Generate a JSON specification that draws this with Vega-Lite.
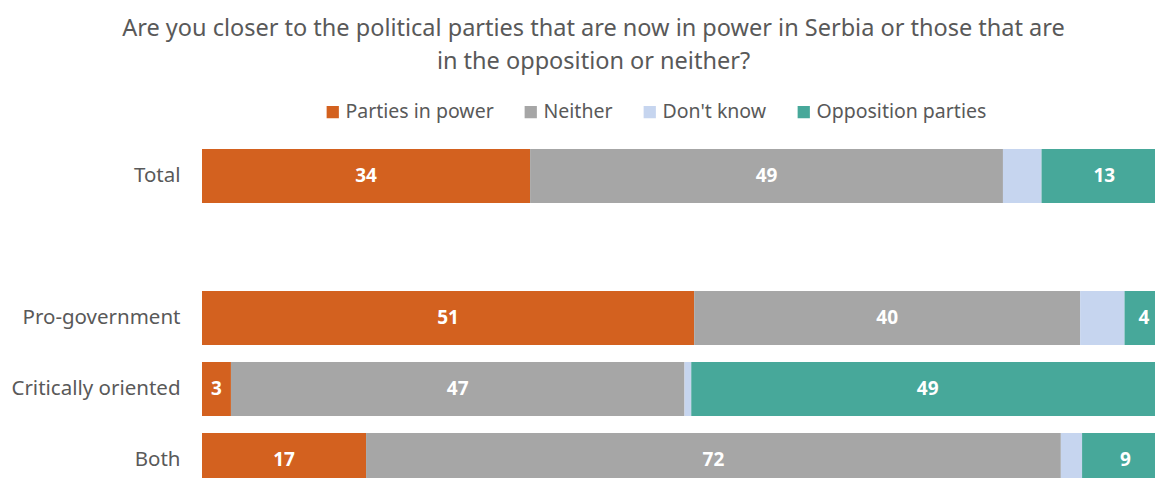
{
  "$schema": "https://vega.github.io/schema/vega-lite/v6.json",
  "width": 953,
  "height": 329,
  "autosize": {"type": "none"},
  "padding": {"left": 202, "top": 149, "right": 0, "bottom": 0},
  "background": "white",
  "config": {
    "font": "Noto Sans",
    "view": {"stroke": null}
  },
  "title": {
    "text": ["Are you closer to the political parties that are now in power in Serbia or those that are", "in the opposition or neither?"],
    "fontSize": 23.5,
    "fontWeight": "normal",
    "color": "#595959",
    "anchor": "middle",
    "frame": "group",
    "dx": -85,
    "offset": 29,
    "lineHeight": 33
  },
  "data": {
    "values": [
      {"g": "Total", "s": "Parties in power", "k": 1, "v": 34},
      {"g": "Total", "s": "Neither", "k": 2, "v": 49},
      {"g": "Total", "s": "Don't know", "k": 3, "v": 4},
      {"g": "Total", "s": "Opposition parties", "k": 4, "v": 13},
      {"g": "Pro-government", "s": "Parties in power", "k": 1, "v": 51},
      {"g": "Pro-government", "s": "Neither", "k": 2, "v": 40},
      {"g": "Pro-government", "s": "Don't know", "k": 3, "v": 4.6},
      {"g": "Pro-government", "s": "Opposition parties", "k": 4, "v": 4},
      {"g": "Critically oriented", "s": "Parties in power", "k": 1, "v": 3},
      {"g": "Critically oriented", "s": "Neither", "k": 2, "v": 47},
      {"g": "Critically oriented", "s": "Don't know", "k": 3, "v": 0.7},
      {"g": "Critically oriented", "s": "Opposition parties", "k": 4, "v": 49},
      {"g": "Both", "s": "Parties in power", "k": 1, "v": 17},
      {"g": "Both", "s": "Neither", "k": 2, "v": 72},
      {"g": "Both", "s": "Don't know", "k": 3, "v": 2.2},
      {"g": "Both", "s": "Opposition parties", "k": 4, "v": 9}
    ]
  },
  "transform": [
    {"stack": "v", "groupby": ["g"], "sort": [{"field": "k", "order": "ascending"}], "as": ["x0", "x1"]},
    {"calculate": "(datum.x0 + datum.x1) / 2", "as": "mid"}
  ],
  "encoding": {
    "y": {
      "field": "g",
      "type": "nominal",
      "title": null,
      "scale": {
        "domain": ["Total", " ", "Pro-government", "Critically oriented", "Both"],
        "range": [0, 338],
        "paddingInner": 0.239,
        "paddingOuter": 0
      },
      "axis": {
        "domain": false,
        "ticks": false,
        "labelFontSize": 20.5,
        "labelColor": "#595959",
        "labelPadding": 22
      }
    }
  },
  "layer": [
    {
      "mark": {"type": "bar", "clip": true},
      "encoding": {
        "x": {"field": "x0", "type": "quantitative", "scale": {"domain": [0, 100], "range": [0, 965]}, "axis": null},
        "x2": {"field": "x1"},
        "color": {
          "field": "s",
          "type": "nominal",
          "scale": {
            "domain": ["Parties in power", "Neither", "Don't know", "Opposition parties"],
            "range": ["#D3611F", "#A6A6A6", "#C6D5EF", "#47A89A"]
          },
          "legend": {
            "title": null,
            "orient": "none",
            "direction": "horizontal",
            "legendX": 121,
            "legendY": -47,
            "symbolType": "square",
            "symbolSize": 150,
            "symbolStrokeWidth": 0,
            "labelFontSize": 19.5,
            "labelColor": "#595959",
            "labelOffset": 3,
            "columnPadding": 27,
            "labelLimit": 400
          }
        }
      }
    },
    {
      "transform": [{"filter": "datum.s != \"Don't know\""}],
      "mark": {"type": "text", "clip": true, "color": "white", "fontWeight": "bold", "fontSize": 19},
      "encoding": {
        "x": {"field": "mid", "type": "quantitative", "scale": {"domain": [0, 100], "range": [0, 965]}},
        "text": {"field": "v", "type": "quantitative"}
      }
    }
  ]
}
